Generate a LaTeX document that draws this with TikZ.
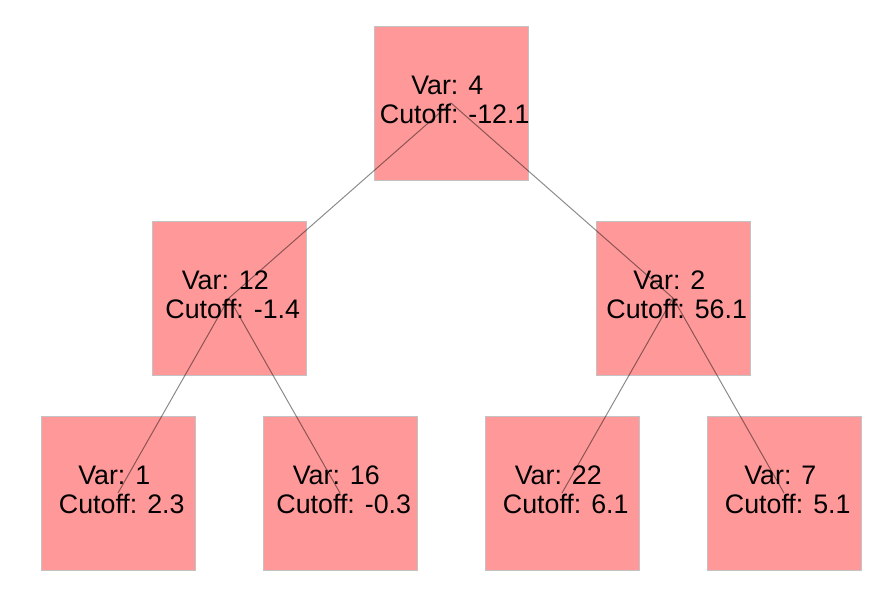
\documentclass[tikz,border=0pt]{standalone}
\usepackage{fontspec}
\setmainfont{Liberation Sans}
\definecolor{boxfill}{RGB}{255,153,153}
\definecolor{boxline}{RGB}{195,195,195}
\begin{document}
\begin{tikzpicture}[x=1pt,y=-1pt,
  treebox/.style={draw=boxline,line width=0.5pt,fill=boxfill,minimum width=154pt,minimum height=154pt,inner sep=0pt},
  lbl/.style={align=center,font=\fontsize{26.8}{29.5}\selectfont,inner sep=0pt,yshift=3pt},
  edge/.style={draw=black,draw opacity=0.45,line width=1pt}]
\useasboundingbox (0,0) rectangle (879,589);
% boxes
\node[treebox] (n0) at (451,103) {};
\node[treebox] (n1) at (229,298) {};
\node[treebox] (n2) at (673,298) {};
\node[treebox] (n3) at (118,493) {};
\node[treebox] (n4) at (340,493) {};
\node[treebox] (n5) at (562,493) {};
\node[treebox] (n6) at (784,493) {};
% edges
\draw[edge] (n0.center) -- (n1.center);
\draw[edge] (n0.center) -- (n2.center);
\draw[edge] (n1.center) -- (n3.center);
\draw[edge] (n1.center) -- (n4.center);
\draw[edge] (n2.center) -- (n5.center);
\draw[edge] (n2.center) -- (n6.center);
% labels
\node[lbl] (t0) at (n0) {Var: 4\hspace*{0.278em}\\\hspace*{0.278em}Cutoff: -12.1};
\node[lbl] (t1) at (n1) {Var: 12\hspace*{0.278em}\\\hspace*{0.278em}Cutoff: -1.4};
\node[lbl] (t2) at (n2) {Var: 2\hspace*{0.278em}\\\hspace*{0.278em}Cutoff: 56.1};
\node[lbl] (t3) at (n3) {Var: 1\hspace*{0.278em}\\\hspace*{0.278em}Cutoff: 2.3};
\node[lbl] (t4) at (n4) {Var: 16\hspace*{0.278em}\\\hspace*{0.278em}Cutoff: -0.3};
\node[lbl] (t5) at (n5) {Var: 22\hspace*{0.278em}\\\hspace*{0.278em}Cutoff: 6.1};
\node[lbl] (t6) at (n6) {Var: 7\hspace*{0.278em}\\\hspace*{0.278em}Cutoff: 5.1};
\end{tikzpicture}
\end{document}
